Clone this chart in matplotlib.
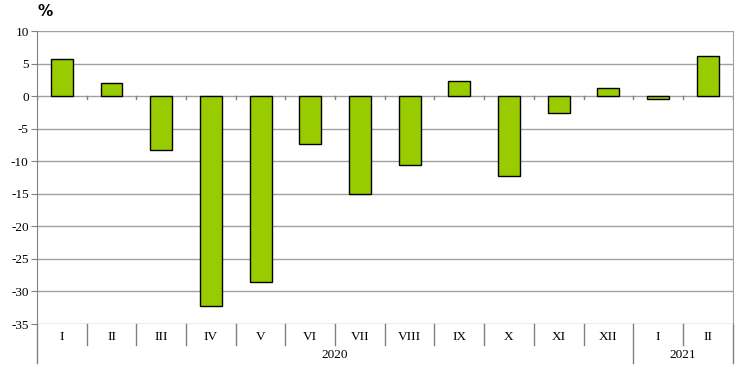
import matplotlib.pyplot as plt
from matplotlib.lines import Line2D

months = ["I", "II", "III", "IV", "V", "VI", "VII", "VIII", "IX", "X", "XI", "XII", "I", "II"]
values = [5.7, 2.0, -8.3, -32.3, -28.5, -7.3, -15.0, -10.5, 2.4, -12.2, -2.6, 1.3, -0.4, 6.2]
years = ["2020", "2021"]
year_counts = [12, 2]
yticks = [10, 5, 0, -5, -10, -15, -20, -25, -30, -35]

plt.rcParams["font.family"] = ["Liberation Serif", "DejaVu Serif"]
plt.rcParams["axes.unicode_minus"] = False

fig = plt.figure(figsize=(7.4, 3.79), dpi=100)
ax = fig.add_axes([0.05, 0.145, 0.94, 0.773])

x = list(range(len(months)))
ax.bar(x, values, width=0.44, color="#99CC00", edgecolor="black", linewidth=1, zorder=3)

ax.set_xlim(-0.5, len(months) - 0.5)
ax.set_ylim(-35, 10)
ax.set_yticks(yticks)
ax.set_yticklabels([str(v) for v in yticks], fontsize=9.5)
ax.tick_params(axis="y", length=4, color="#808080", pad=2)
ax.set_xticks([])
ax.yaxis.grid(True, color="#a0a0a0", linewidth=1)
ax.set_axisbelow(True)

for side in ["top", "bottom"]:
    ax.spines[side].set_visible(False)
ax.spines["left"].set_color("#808080")
ax.spines["right"].set_color("#a0a0a0")

# small ticks on the zero line
for i in range(len(months) + 1):
    xi = i - 0.5
    ax.plot([xi, xi], [0, -0.5], color="#808080", lw=1, zorder=2)

# category separators under the plot (axes height ~293 px)
trans = ax.get_xaxis_transform()
short = -21 / 293
long = -39 / 293
year_edges = [-0.5]
acc = -0.5
for c in year_counts:
    acc += c
    year_edges.append(acc)
for i in range(len(months) + 1):
    xi = i - 0.5
    y0 = long if xi in year_edges else short
    ax.add_line(Line2D([xi, xi], [0, y0], transform=trans, color="#808080",
                       lw=1, clip_on=False))

for i, m in enumerate(months):
    ax.text(i, -13 / 293, m, transform=trans, ha="center", va="center", fontsize=9.5)

for j, yr in enumerate(years):
    mid = (year_edges[j] + year_edges[j + 1]) / 2
    ax.text(mid, -31 / 293, yr, transform=trans, ha="center", va="center", fontsize=9.5)

fig.text(45 / 740, 1 - 12 / 379, "%", ha="center", va="center", fontsize=11,
         family=["DejaVu Sans"], fontweight="semibold")

fig.savefig("out.png", dpi=100)
